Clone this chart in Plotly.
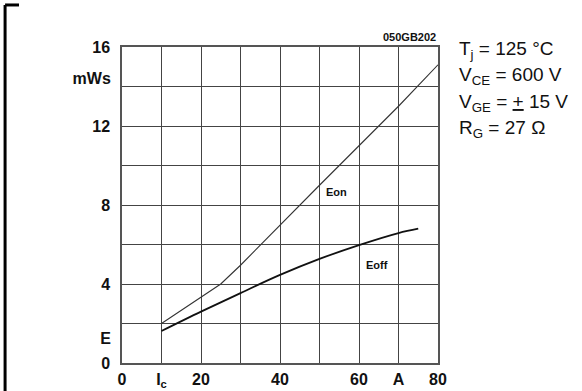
import plotly.graph_objects as go

# Eon / Eoff switching energy vs collector current
ic_on = [10, 20, 25, 30, 40, 45, 50, 60, 70, 80]
e_on = [2.0, 3.35, 4.0, 4.95, 7.0, 8.0, 9.0, 11.0, 13.0, 15.1]

ic_off = [10, 20, 30, 40, 50, 60, 70, 75]
e_off = [1.62, 2.6, 3.54, 4.46, 5.27, 5.97, 6.58, 6.8]

x_ticks = [0, 10, 20, 40, 60, 70, 80]
x_labels = ['0', 'I<sub>c</sub>', '20', '40', '60', 'A', '80']
y_ticks = [0, 4, 8, 12, 16]
y_labels = ['0', '4', '8', '12', '16']
unit_ticks = [1.27, 14.4]
unit_labels = ['E', 'mWs']

conditions = [
    'T<sub>j</sub> = 125 °C',
    'V<sub>CE</sub> = 600 V',
    'V<sub>GE</sub> = <u>+</u> 15 V',
    'R<sub>G</sub> = 27 Ω',
]

FONT = 'Liberation Sans, Arial, sans-serif'
tickfont = dict(family=FONT, size=16, color='#111', weight='bold')

fig = go.Figure()
fig.add_trace(go.Scatter(x=ic_on, y=e_on, mode='lines', line=dict(color='#333', width=1.1),
                         showlegend=False, hoverinfo='skip'))
fig.add_trace(go.Scatter(x=ic_off, y=e_off, mode='lines', line=dict(color='#111', width=1.8, shape='spline'),
                         showlegend=False, hoverinfo='skip'))
# empty trace so the unit axis gets drawn
fig.add_trace(go.Scatter(x=[None], y=[None], yaxis='y2', showlegend=False, hoverinfo='skip'))

axis_common = dict(showline=True, linecolor='#555', linewidth=1.5, mirror=True,
                   gridcolor='#444', gridwidth=1, zeroline=False, automargin=False,
                   ticks='outside', tickcolor='rgba(0,0,0,0)', tickfont=tickfont)

fig.update_layout(
    width=582, height=391,
    margin=dict(l=122, r=144, t=47, b=28, autoexpand=False),
    paper_bgcolor='white', plot_bgcolor='white',
    xaxis=dict(range=[0, 80], tickmode='array', tickvals=x_ticks, ticktext=x_labels, ticklen=1,
               minor=dict(dtick=10, showgrid=True, gridcolor='#444', gridwidth=1, ticks=''),
               **axis_common),
    yaxis=dict(range=[0, 16], tickmode='array', tickvals=y_ticks, ticktext=y_labels, ticklen=7,
               minor=dict(dtick=2, showgrid=True, gridcolor='#444', gridwidth=1, ticks=''),
               **axis_common),
    yaxis2=dict(range=[0, 16], overlaying='y', side='left', tickmode='array', tickvals=unit_ticks,
                ticktext=unit_labels, showgrid=False, zeroline=False, showline=False, automargin=False,
                ticks='outside', ticklen=7, tickcolor='rgba(0,0,0,0)', tickfont=tickfont),
)

# curve labels
fig.add_annotation(x=54.4, y=8.66, text='Eon', showarrow=False,
                   font=dict(family=FONT, size=11, color='#111', weight='bold'))
fig.add_annotation(x=64.5, y=4.95, text='Eoff', showarrow=False,
                   font=dict(family=FONT, size=11, color='#111', weight='bold'))
fig.add_annotation(x=80, y=16, xanchor='right', yanchor='bottom', yshift=2, text='050GB202',
                   showarrow=False, font=dict(family=FONT, size=11, color='#111', weight='bold'))

# test conditions on the right
for i, txt in enumerate(conditions):
    fig.add_annotation(xref='paper', yref='paper', x=1.06, y=0.99 - i * 0.083,
                       xanchor='left', yanchor='middle', text=txt, showarrow=False,
                       font=dict(family=FONT, size=19, color='#111'))

# page frame bits on the left
fig.add_shape(type='line', xref='paper', yref='paper', x0=-0.37, x1=-0.37, y0=1.133, y1=-0.1,
              line=dict(color='black', width=3))
fig.add_shape(type='line', xref='paper', yref='paper', x0=-0.37, x1=-0.326, y0=1.133, y1=1.133,
              line=dict(color='black', width=3))

# the page body has a default margin; drop it so the figure sits at the window corner
fig.write_html("out.html", config={'displayModeBar': False},
               post_script="document.body.style.margin = '0';")
